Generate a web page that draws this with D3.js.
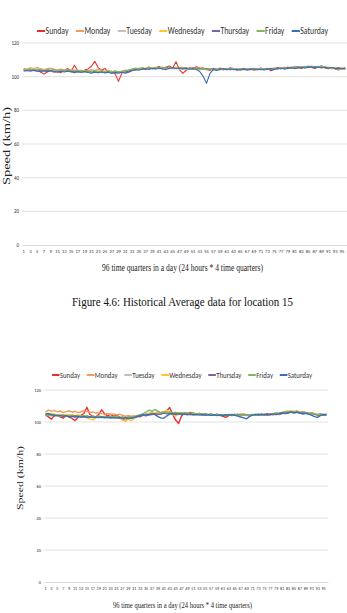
<!DOCTYPE html>
<html>
<head>
<meta charset="utf-8">
<script src="https://cdn.jsdelivr.net/npm/d3@7"></script>
<style>
  body { margin: 0; background: #fff; }
  svg { display: block; }
</style>
</head>
<body>
<div id="fig"></div>
<script>
// categories
var quarters = d3.range(1, 97);
var xTickLabels = quarters.filter(function(q) { return q % 2 === 1; });
var yTicks = [0, 20, 40, 60, 80, 100, 120];
var days = ["Sunday", "Monday", "Tuesday", "Wednesday", "Thursday", "Friday", "Saturday"];
var dayColors = ["#e5322d", "#f29a5e", "#bfbfbf", "#ffc62a", "#7a62ad", "#7fb85e", "#3b6fb3"];

var yTitle = "Speed (km/h)";
var xTitle = "96 time quarters in a day (24 hours * 4 time quarters)";
var caption = "Figure 4.6: Historical Average data for location 15";

// chart 1 : location 15, average speed per quarter
var loc15Sun = [104.2,103.8,104.5,103.6,104.0,102.8,101.5,102.9,103.4,102.6,103.1,102.4,
  103.6,104.8,103.2,106.8,103.5,102.7,103.9,104.6,106.2,109.1,105.4,103.8,
  104.9,102.6,103.2,101.8,97.2,102.1,103.5,102.8,104.3,103.9,104.6,105.2,
  104.1,105.8,104.7,105.3,106.1,104.9,105.6,106.3,105.1,108.9,104.2,101.9,
  103.8,105.4,104.6,105.9,104.8,105.2,104.3,103.7,104.9,104.4,105.1,104.6,
  104.1,105.3,104.8,103.9,104.5,105.0,104.2,104.7,103.8,104.3,105.2,104.6,
  104.9,103.5,104.2,105.4,104.8,105.6,104.9,105.3,106.1,105.4,104.8,105.7,
  106.2,105.5,104.9,105.8,106.4,105.2,104.7,105.3,104.6,103.9,104.8,104.2];
var loc15Mon = [105.0,104.6,105.3,104.8,105.5,104.9,104.2,104.8,105.1,104.4,103.9,104.6,
  104.1,103.7,104.3,103.5,104.0,103.2,103.8,103.4,104.2,103.6,104.4,103.9,
  103.1,103.8,102.9,103.5,102.7,103.3,103.9,103.2,104.1,104.7,104.2,105.0,
  104.6,105.3,104.9,105.5,105.0,104.4,105.2,105.7,104.8,105.4,104.9,105.6,
  105.1,104.7,105.4,104.8,105.3,104.6,104.1,104.8,104.3,104.9,104.5,104.0,
  104.6,104.2,104.8,104.4,103.9,104.5,104.9,104.3,104.7,104.1,104.6,104.2,
  104.8,104.4,105.0,104.6,105.2,104.7,105.3,105.8,105.1,105.6,106.0,105.4,
  105.9,106.3,105.7,106.1,105.5,105.9,105.2,104.8,105.3,104.7,105.1,104.4];
var loc15Tue = [103.9,104.3,103.7,104.1,103.5,103.9,103.3,103.8,103.2,103.6,103.0,103.5,
  102.9,103.4,103.0,102.6,103.2,102.8,103.3,102.7,103.1,102.5,102.9,103.4,
  102.8,103.2,102.6,103.0,102.4,102.9,103.4,103.9,104.5,104.1,104.8,105.2,
  104.7,105.1,104.6,105.3,104.9,105.4,104.8,105.2,104.6,105.0,104.5,104.9,
  104.4,104.8,104.3,104.7,104.2,104.6,104.0,104.5,104.1,104.6,104.2,104.7,
  104.3,104.8,104.4,104.0,104.5,104.1,104.6,104.2,104.7,104.3,104.8,104.4,
  104.9,104.5,105.0,104.6,105.1,105.5,104.9,105.4,105.8,105.3,105.7,105.2,
  105.6,106.0,105.5,105.9,105.3,105.7,105.1,104.6,105.0,104.4,104.8,104.3];
var loc15Wed = [103.5,103.9,104.2,103.6,104.0,103.4,103.8,103.1,103.6,102.9,103.4,103.8,
  103.2,103.7,102.8,103.3,102.6,103.1,102.5,103.0,102.4,102.9,103.5,102.8,
  103.3,102.7,103.2,102.5,103.0,102.3,102.8,103.4,103.9,104.6,105.1,104.5,
  105.0,104.4,105.3,104.8,105.5,104.9,105.4,104.7,105.2,105.8,105.1,104.6,
  105.0,104.5,104.9,104.3,104.8,104.2,104.7,104.1,104.6,104.0,104.5,104.9,
  104.4,104.8,104.3,104.7,104.2,104.6,104.1,104.5,104.0,104.4,104.8,104.3,
  104.7,105.1,104.6,105.0,104.5,105.3,105.7,105.1,105.6,106.0,105.4,105.9,
  105.3,105.8,106.2,105.6,106.0,105.4,105.8,105.1,104.7,105.2,104.6,104.9];
var loc15Thu = [104.0,103.6,104.1,103.7,103.3,103.8,103.4,103.9,103.5,103.1,103.6,103.2,
  103.7,103.3,102.9,103.4,103.0,102.6,103.1,102.7,103.2,102.8,102.4,102.9,
  102.5,103.0,102.6,102.2,102.7,102.3,102.8,103.3,103.8,104.3,104.8,104.4,
  104.9,105.3,104.8,105.2,104.7,105.1,105.5,105.0,105.4,104.9,105.3,104.8,
  105.2,104.7,105.1,104.6,105.0,104.5,104.9,104.4,104.8,104.3,104.7,104.2,
  104.6,104.1,104.5,104.0,104.4,104.8,104.3,104.7,104.2,104.6,104.1,104.5,
  104.9,104.4,104.8,105.2,104.7,105.1,105.5,105.0,105.4,105.8,105.3,105.7,
  106.1,105.6,106.0,105.5,105.9,105.4,105.0,105.4,104.9,105.3,104.8,105.2];
var loc15Fri = [104.4,104.0,104.5,104.1,104.6,104.2,103.8,104.3,103.9,104.4,103.7,104.1,
  103.6,104.0,103.5,103.9,103.3,103.8,103.2,103.7,103.1,103.6,103.0,103.5,
  102.9,103.4,102.8,103.3,102.7,103.1,103.6,104.0,104.6,105.1,104.7,105.3,
  104.8,105.4,104.9,105.6,105.1,105.7,105.2,104.8,105.3,104.9,105.5,105.0,
  104.6,105.0,104.5,104.9,104.4,104.8,104.3,104.7,104.2,104.6,104.1,104.5,
  104.9,104.4,104.8,104.3,104.7,104.2,104.6,104.1,104.5,104.9,104.4,104.8,
  104.3,104.7,105.1,104.6,105.0,105.4,104.9,105.3,105.7,105.2,105.6,106.1,
  105.5,106.0,105.4,105.9,106.3,105.7,105.2,105.6,105.0,104.5,104.9,104.4];
var loc15Sat = [103.2,103.7,103.3,103.8,103.4,102.9,103.5,103.0,103.6,103.1,102.7,103.2,
  102.8,103.3,102.9,102.4,103.0,102.6,103.1,102.5,102.1,102.7,102.3,102.8,
  102.2,102.7,101.9,102.4,102.0,102.6,102.1,102.7,103.5,104.2,103.8,104.5,
  104.9,104.3,105.0,104.5,105.1,104.6,104.2,104.8,105.3,104.7,105.2,104.6,
  105.0,104.4,104.9,104.3,103.1,100.2,96.1,101.8,104.2,103.7,104.3,104.8,
  104.2,104.6,104.1,104.5,104.0,104.4,103.9,104.3,104.7,104.1,104.5,104.0,
  104.4,104.8,104.3,104.7,105.1,104.5,104.9,105.3,104.8,105.2,105.6,105.1,
  105.5,105.9,105.3,105.7,105.2,105.6,105.0,105.4,104.8,105.2,104.7,105.1];

// chart 2 : next location, average speed per quarter
var locBSun = [104.5,103.2,101.8,103.9,104.6,103.1,102.4,104.2,103.0,102.2,100.9,102.8,
  104.1,105.3,109.2,104.7,103.6,102.9,104.8,107.6,105.1,103.8,104.9,103.5,
  104.3,103.1,102.2,100.6,102.8,103.5,102.7,103.9,103.2,104.4,103.8,105.1,
  104.6,105.4,106.2,105.0,105.9,107.1,109.0,104.8,101.2,99.1,103.8,105.6,
  105.2,106.0,105.4,104.8,105.3,104.6,105.1,104.5,104.9,104.3,104.8,104.2,
  103.6,102.9,104.1,104.7,104.2,104.8,104.3,104.9,104.4,104.0,104.6,104.1,
  104.7,104.2,104.8,104.3,105.0,104.5,105.1,104.6,105.3,106.2,105.5,106.6,
  106.1,106.8,105.9,106.4,105.8,105.2,105.7,104.9,104.4,104.8,104.2,104.6];
var locBMon = [106.2,107.4,106.8,107.1,106.3,106.9,105.8,106.5,107.0,106.1,106.7,105.9,
  106.4,107.2,106.6,105.8,106.3,105.5,106.0,105.2,104.8,105.4,104.6,105.1,
  104.3,104.9,104.2,103.6,104.1,103.5,103.9,103.3,103.8,104.4,104.9,105.5,
  105.0,105.7,106.3,105.6,106.1,106.8,106.2,105.6,106.0,105.4,105.9,105.3,
  105.8,105.2,105.6,105.0,105.4,104.8,105.2,104.6,105.1,104.5,104.9,104.3,
  104.7,104.2,104.8,104.3,104.9,104.4,105.0,104.5,104.1,104.6,104.2,104.7,
  104.3,104.8,104.4,105.0,104.5,105.1,104.7,105.3,105.9,106.4,105.8,106.5,
  106.0,106.6,106.1,105.5,106.0,105.4,105.8,105.1,104.7,105.2,104.6,105.0];
var locBTue = [104.0,104.6,104.1,104.8,104.3,103.7,104.2,103.6,104.1,103.5,104.0,103.4,
  103.9,103.3,103.8,103.2,103.7,103.1,103.6,103.0,103.5,102.9,103.4,102.8,
  103.3,102.7,103.2,102.6,103.1,102.5,103.0,103.6,104.1,104.7,104.2,104.9,
  105.4,104.8,105.3,105.9,105.4,106.0,105.5,104.9,105.3,104.8,105.2,104.7,
  105.1,104.6,105.0,104.5,104.9,104.4,104.8,104.3,104.7,104.2,104.6,104.1,
  104.5,104.0,104.4,104.8,104.3,104.7,104.2,104.6,104.1,104.5,104.9,104.4,
  104.8,104.3,104.7,105.1,104.6,105.0,105.5,105.1,105.6,106.0,105.5,106.1,
  105.6,106.2,105.7,106.1,105.5,105.0,105.4,104.9,104.5,104.9,104.4,104.8];
var locBWed = [105.2,104.7,105.4,104.9,104.3,104.8,104.2,104.7,104.1,104.6,104.0,104.5,
  103.9,103.4,102.6,101.8,101.3,102.4,103.5,103.0,103.6,102.9,103.4,102.7,
  103.2,102.5,101.2,100.6,101.8,100.9,102.2,103.4,104.0,104.6,104.2,105.3,
  106.1,105.4,106.6,105.8,106.4,107.2,106.3,104.6,103.9,104.7,105.2,104.6,
  105.1,104.5,105.0,104.4,104.9,104.3,104.8,104.2,104.7,104.1,104.6,104.0,
  104.5,104.1,104.6,104.2,104.7,104.3,104.8,104.4,104.0,104.5,104.1,104.6,
  104.2,104.7,104.3,104.9,104.4,105.0,105.6,105.2,105.8,106.5,107.0,106.4,
  106.9,106.3,105.7,106.2,105.6,105.1,105.5,104.9,104.4,104.8,104.3,104.7];
var locBThu = [104.6,104.1,104.5,103.9,104.3,103.8,104.2,103.6,104.0,103.5,103.9,103.3,
  103.7,103.2,103.6,103.1,103.5,102.9,103.3,102.8,103.2,102.7,103.1,102.6,
  103.0,102.5,102.9,102.4,102.8,102.3,102.7,103.2,103.7,104.2,104.7,104.3,
  104.8,105.2,104.7,105.1,105.6,105.1,105.5,105.0,105.4,104.9,105.3,104.8,
  105.2,104.7,105.1,104.6,105.0,104.5,104.9,104.4,104.8,104.3,104.7,104.2,
  104.6,104.1,104.5,104.0,104.4,104.8,104.3,104.7,104.2,104.6,104.1,104.5,
  104.9,104.4,104.8,104.3,104.7,105.2,104.8,105.3,105.7,105.2,105.8,106.2,
  105.7,106.1,105.6,106.0,105.4,104.9,105.3,104.8,104.4,104.8,104.3,104.7];
var locBFri = [103.8,104.3,103.9,104.4,104.0,103.6,104.1,103.7,104.2,103.8,103.4,103.9,
  103.5,104.0,103.6,103.2,103.7,103.3,103.8,103.4,102.9,103.4,103.0,103.5,
  103.1,102.6,103.1,102.7,103.2,102.8,103.4,103.9,104.6,105.2,106.1,107.4,
  106.6,107.9,106.8,105.9,106.5,105.8,106.2,105.6,106.0,105.5,105.9,105.3,
  105.7,105.1,105.5,104.9,105.3,104.7,105.1,104.5,104.9,104.3,104.7,104.2,
  104.6,104.2,104.7,104.3,104.8,104.4,104.0,104.5,104.1,104.6,104.2,104.7,
  104.3,104.8,104.4,105.0,104.6,105.2,105.7,105.3,105.9,106.6,106.1,106.8,
  106.2,106.7,106.0,105.4,105.9,105.3,105.7,105.1,104.6,105.0,104.5,104.9];
var locBSat = [104.9,105.3,104.6,104.2,103.8,104.1,103.5,103.9,103.2,103.6,103.1,103.5,
  103.0,103.4,102.9,103.3,102.8,103.2,102.7,103.1,102.6,103.0,102.5,102.9,
  102.4,102.8,102.3,102.7,102.2,102.6,102.9,103.5,104.0,104.6,104.1,104.7,
  105.2,104.6,103.4,102.6,102.3,103.8,104.9,105.4,104.8,105.2,104.6,105.0,
  104.5,104.9,104.4,104.8,104.3,104.7,104.2,104.6,104.1,104.5,104.0,104.4,
  104.0,104.5,104.1,104.6,104.2,103.7,103.1,102.6,102.0,103.5,104.3,104.8,
  104.4,104.9,104.5,105.0,104.6,105.1,104.7,105.2,105.8,105.3,105.9,106.3,
  105.8,106.2,105.6,105.0,105.5,104.9,104.2,103.4,102.9,104.1,104.7,104.3];

var chart1Series = [loc15Sun, loc15Mon, loc15Tue, loc15Wed, loc15Thu, loc15Fri, loc15Sat];
var chart2Series = [locBSun, locBMon, locBTue, locBWed, locBThu, locBFri, locBSat];

var width = 347, height = 613;
var sansFont = "Carlito, 'Liberation Sans Narrow', 'DejaVu Sans Condensed', 'Liberation Sans', sans-serif";
var serifFont = "'Liberation Serif', 'DejaVu Serif', serif";

var svg = d3.select("#fig")
  .append("svg")
    .attr("width", width)
    .attr("height", height);

// layout of each chart block
var layout1 = {left: 22, right: 347, top: 43, bottom: 245, legendY: 31, legendCx: 182.5, legendW: 291,
  legendFont: 9.5, tickFont: 4.6, yTickFont: 5, lineW: 1.1,
  yTitleX: 6, yTitleY: 146, yTitleFont: 11, yTitleLen: 78,
  xTitleY: 271, xTitleX: 182.5, xTitleFont: 10.5, xTitleLen: 161};
var layout2 = {left: 44, right: 328, top: 390, bottom: 582, legendY: 375, legendCx: 182, legendW: 260,
  legendFont: 9, tickFont: 4.2, yTickFont: 4.4, lineW: 1.4,
  yTitleX: 20, yTitleY: 478, yTitleFont: 9, yTitleLen: 64,
  xTitleY: 608, xTitleX: 182.5, xTitleFont: 9, xTitleLen: 139};

function drawChart(L, series) {
  var x = d3.scaleBand().domain(quarters).range([L.left, L.right]);
  var y = d3.scaleLinear().domain([0, 120]).range([L.bottom, L.top]);
  var g = svg.append("g");

  // gridlines
  g.append("g").selectAll("line")
    .data(yTicks.filter(function(d) { return d > 0; }))
    .join("line")
      .attr("x1", L.left).attr("x2", L.right)
      .attr("y1", function(d) { return y(d); })
      .attr("y2", function(d) { return y(d); })
      .attr("stroke", "#d9d9d9")
      .attr("stroke-width", 0.8);

  // x axis
  var xa = g.append("g")
    .attr("transform", "translate(0," + L.bottom + ")")
    .call(d3.axisBottom(x).tickValues(xTickLabels).tickSize(0).tickPadding(5));
  xa.select(".domain").attr("stroke", "#d0d0d0").attr("stroke-width", 0.8);
  xa.selectAll("text").attr("font-size", L.tickFont).attr("font-family", sansFont).attr("fill", "#303030");

  // y axis
  var ya = g.append("g")
    .attr("transform", "translate(" + L.left + ",0)")
    .call(d3.axisLeft(y).tickValues(yTicks).tickSize(0).tickPadding(3));
  ya.select(".domain").remove();
  ya.selectAll("text").attr("font-size", L.yTickFont).attr("font-family", sansFont).attr("fill", "#303030");

  // series lines
  var line = d3.line()
    .x(function(d, i) { return x(quarters[i]) + x.bandwidth() / 2; })
    .y(function(d) { return y(d); });

  g.append("g").selectAll("path")
    .data(series)
    .join("path")
      .attr("fill", "none")
      .attr("stroke", function(d, i) { return dayColors[i]; })
      .attr("stroke-width", L.lineW)
      .attr("stroke-linejoin", "round")
      .attr("d", line);

  // legend
  var leg = g.append("g");
  var lx = 0;
  days.forEach(function(name, i) {
    leg.append("line")
      .attr("x1", lx).attr("x2", lx + 10)
      .attr("y1", 0).attr("y2", 0)
      .attr("stroke", dayColors[i])
      .attr("stroke-width", 2);
    var t = leg.append("text")
      .attr("x", lx + 10.5)
      .attr("y", 0)
      .attr("dy", "0.35em")
      .attr("font-size", L.legendFont)
      .attr("font-family", sansFont)
      .attr("fill", "#333")
      .text(name);
    lx += 10.5 + t.node().getComputedTextLength() + 9;
  });
  var natural = lx - 9;
  var sx = L.legendW / natural;
  leg.attr("transform", "translate(" + (L.legendCx - L.legendW / 2) + "," + L.legendY + ") scale(" + sx + ",1)");

  // axis titles
  g.append("text")
    .attr("transform", "translate(" + L.yTitleX + "," + L.yTitleY + ") rotate(-90)")
    .attr("text-anchor", "middle")
    .attr("dy", "0.35em")
    .attr("font-family", serifFont)
    .attr("font-size", L.yTitleFont)
    .attr("textLength", L.yTitleLen)
    .attr("lengthAdjust", "spacingAndGlyphs")
    .attr("fill", "#222")
    .text(yTitle);

  g.append("text")
    .attr("x", L.xTitleX - L.xTitleLen / 2)
    .attr("y", L.xTitleY)
    .attr("font-family", serifFont)
    .attr("font-size", L.xTitleFont)
    .attr("textLength", L.xTitleLen)
    .attr("lengthAdjust", "spacingAndGlyphs")
    .attr("fill", "#222")
    .text(xTitle);
}

drawChart(layout1, chart1Series);
drawChart(layout2, chart2Series);

// figure caption between the charts
svg.append("text")
  .attr("x", 72)
  .attr("y", 306)
  .attr("font-family", serifFont)
  .attr("font-size", 11.5)
  .attr("textLength", 221)
  .attr("lengthAdjust", "spacingAndGlyphs")
  .attr("fill", "#111")
  .text(caption);
</script>
</body>
</html>
